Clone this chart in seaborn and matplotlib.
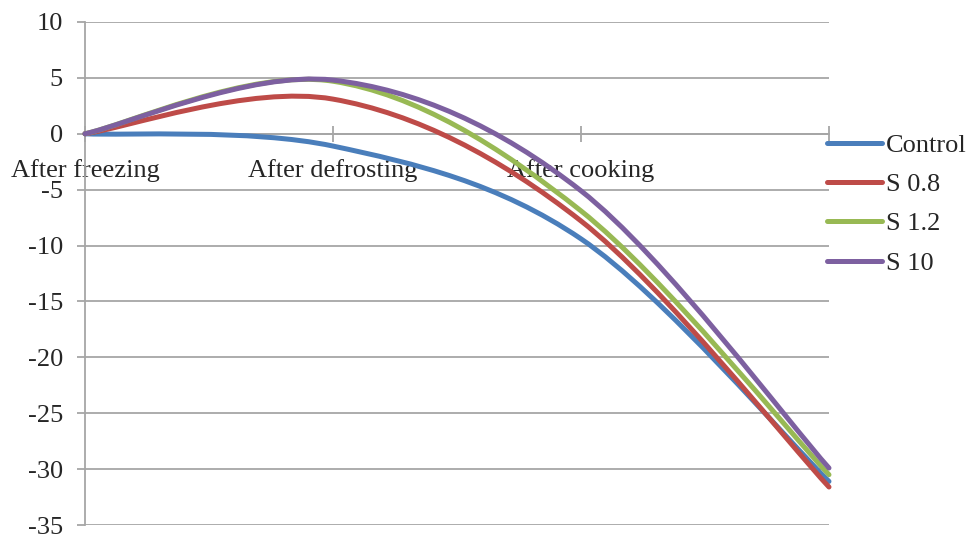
import matplotlib
matplotlib.use("Agg")
import matplotlib.pyplot as plt
from matplotlib.path import Path
from matplotlib.patches import PathPatch
from matplotlib.lines import Line2D
import seaborn as sns

# data
categories = ["After freezing", "After defrosting", "After cooking", ""]
series_names = ["Control", "S 0.8", "S 1.2", "S 10"]
control = [0.0, -1.1, -9.4, -31.1]
s08 = [0.0, 3.1, -7.8, -31.6]
s12 = [0.0, 4.7, -6.9, -30.5]
s10 = [0.0, 4.8, -5.1, -29.9]
colors = ["#4A7EBB", "#BE4B48", "#98B954", "#7D60A0"]
y_ticks = list(range(-35, 11, 5))

sns.set_style("white")
plt.rcParams["font.family"] = ["Liberation Serif", "DejaVu Serif"]
plt.rcParams["axes.unicode_minus"] = False


def smooth_path(xs, ys):
    # Excel-like smoothed line: cubic bezier through each point
    pts = list(zip(xs, ys))
    n = len(pts)
    verts = [pts[0]]
    codes = [Path.MOVETO]
    for i in range(n - 1):
        p0 = pts[max(i - 1, 0)]
        p1 = pts[i]
        p2 = pts[i + 1]
        p3 = pts[min(i + 2, n - 1)]
        c1 = (p1[0] + (p2[0] - p0[0]) / 6, p1[1] + (p2[1] - p0[1]) / 6)
        c2 = (p2[0] - (p3[0] - p1[0]) / 6, p2[1] - (p3[1] - p1[1]) / 6)
        verts += [c1, c2, p2]
        codes += [Path.CURVE4] * 3
    return Path(verts, codes)


fig = plt.figure(figsize=(9.69, 5.36), dpi=100)
ax = fig.add_axes([0.0877, 0.0205, 0.7678, 0.9385])

palette = sns.color_palette(colors)
x = list(range(len(categories)))
handles = []
for name, vals, col in zip(series_names, [control, s08, s12, s10], palette):
    patch = PathPatch(smooth_path(x, vals), fill=False, edgecolor=col, lw=3.6,
                      capstyle="round", joinstyle="round", clip_on=False, zorder=3)
    ax.add_patch(patch)
    handles.append(Line2D([], [], color=col, lw=3.6, solid_capstyle="round", label=name))

ax.set_xlim(0, 3)
ax.set_ylim(-35, 10)
ax.set_yticks(y_ticks)
ax.set_xticks(x)
ax.set_xticklabels(categories)

grid_col = "#A6A6A6"
ax.yaxis.grid(True, color=grid_col, lw=1.3)
ax.xaxis.grid(False)
ax.set_axisbelow(True)
for side in ["top", "right"]:
    ax.spines[side].set_visible(False)
ax.spines["left"].set_color(grid_col)
ax.spines["left"].set_linewidth(1.3)
ax.spines["bottom"].set_position(("data", 0))
ax.spines["bottom"].set_color(grid_col)
ax.spines["bottom"].set_linewidth(1.3)

ax.tick_params(axis="y", direction="out", length=6, width=1.3, color=grid_col,
               labelsize=19, pad=10, left=True)
ax.tick_params(axis="x", direction="inout", length=12, width=1.3, color=grid_col,
               labelsize=19, pad=12, bottom=True)

ax.legend(handles=handles, loc="center left", bbox_to_anchor=(0.997, 0.638),
          frameon=False, fontsize=19, handlelength=2.1, handletextpad=0.15,
          labelspacing=0.6, borderpad=0, borderaxespad=0)

fig.savefig("out.png", dpi=100)
